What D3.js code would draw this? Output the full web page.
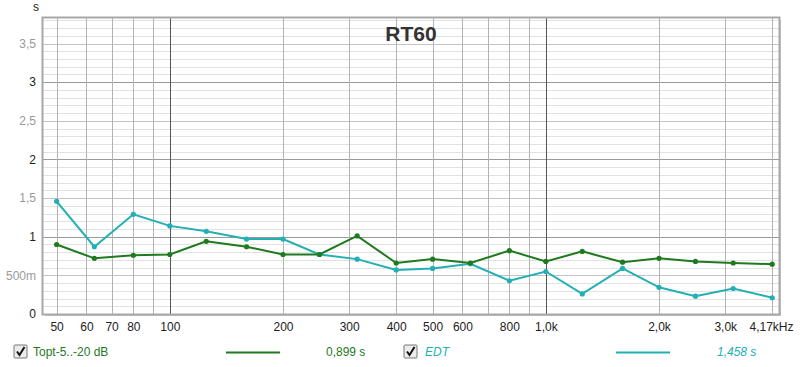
<!DOCTYPE html>
<html>
<head>
<meta charset="utf-8">
<script src="https://cdn.jsdelivr.net/npm/d3@7"></script>
<style>
  body { margin: 0; background: #fff; }
  svg { font-family: "Liberation Sans", Arial, sans-serif; }
</style>
</head>
<body>
<svg id="chart" width="800" height="367"></svg>
<script>
// third-octave bands and measured values (s)
const freqs = [50, 63, 80, 100, 125, 160, 200, 250, 315, 400, 500, 630, 800, 1000, 1250, 1600, 2000, 2500, 3150, 4000];
const topt = [0.899, 0.72, 0.76, 0.77, 0.94, 0.87, 0.77, 0.77, 1.01, 0.66, 0.71, 0.66, 0.82, 0.68, 0.81, 0.67, 0.72, 0.68, 0.66, 0.645];
const edt = [1.458, 0.87, 1.29, 1.14, 1.07, 0.97, 0.97, 0.77, 0.71, 0.57, 0.59, 0.65, 0.43, 0.55, 0.26, 0.59, 0.345, 0.23, 0.33, 0.21];

const xTicks = [50, 60, 70, 80, 100, 200, 300, 400, 500, 600, 800, 1000, 2000, 3000, 4170];
const xTickLabels = ["50", "60", "70", "80", "100", "200", "300", "400", "500", "600", "800", "1,0k", "2,0k", "3,0k", "4,17kHz"];
const yTicks = [0, 0.5, 1, 1.5, 2, 2.5, 3, 3.5];
const yTickLabels = ["0", "500m", "1", "1,5", "2", "2,5", "3", "3,5"];

const green = "#1f7a1f";
const cyan = "#22b0b4";

const svg = d3.select("#chart");
const margin = { top: 18, right: 21, bottom: 53, left: 43 };
const width = 800 - margin.left - margin.right;
const height = 367 - margin.top - margin.bottom;

const x = d3.scaleLog().domain([46, 4170]).range([0, width]);
const y = d3.scaleLinear().domain([0, 3.83]).range([height, 0]);

const g = svg.append("g").attr("transform", `translate(${margin.left},${margin.top})`);

// shadow of frame
g.append("rect").attr("x", 2).attr("y", 2).attr("width", width).attr("height", height)
  .attr("fill", "#c8c8c8");
g.append("rect").attr("width", width).attr("height", height).attr("fill", "#fff");

// horizontal grid
const minorY = d3.range(1, 39).map(i => i / 10);
g.selectAll(".hg").data(minorY).join("line")
  .attr("x1", 0).attr("x2", width)
  .attr("y1", d => Math.round(y(d)) + 0.5).attr("y2", d => Math.round(y(d)) + 0.5)
  .attr("stroke", d => {
    const k = Math.round(d * 10);
    if (k % 10 === 0) return "#9a9a9a";
    if (k % 5 === 0) return "#c4c4c4";
    return "#e2e2e2";
  });

// vertical grid
const gridX = [50, 60, 70, 80, 90, 100, 200, 300, 400, 500, 600, 700, 800, 900, 1000, 2000, 3000, 4000];
g.selectAll(".vg").data(gridX).join("line")
  .attr("x1", d => Math.round(x(d)) + 0.5).attr("x2", d => Math.round(x(d)) + 0.5)
  .attr("y1", 0).attr("y2", height)
  .attr("stroke", d => (d === 100 || d === 1000) ? "#555" : "#b4b4b4");

// frame
g.append("rect").attr("x", -0.5).attr("y", -0.5).attr("width", width + 1).attr("height", height + 1)
  .attr("fill", "none").attr("stroke", "#a8a8a8").attr("stroke-width", 2);

// title
g.append("text").attr("x", 368).attr("y", 23).attr("text-anchor", "middle")
  .attr("font-size", 21).attr("font-weight", "bold").attr("fill", "#333").text("RT60");

// axes
const xAxis = d3.axisBottom(x).tickValues(xTicks)
  .tickFormat((d, i) => xTickLabels[i]).tickSize(0).tickPadding(8);
g.append("g").attr("transform", `translate(0,${height})`).call(xAxis)
  .call(a => a.select(".domain").remove())
  .selectAll("text").attr("font-size", 12).attr("fill", "#222")
  .attr("font-family", "'Liberation Sans', Arial, sans-serif")
  .attr("dx", (d, i) => i === xTicks.length - 1 ? -8 : 0);

const yAxis = d3.axisLeft(y).tickValues(yTicks)
  .tickFormat((d, i) => yTickLabels[i]).tickSize(0).tickPadding(7);
g.append("g").call(yAxis)
  .call(a => a.select(".domain").remove())
  .selectAll("text").attr("font-size", 12)
  .attr("font-family", "'Liberation Sans', Arial, sans-serif")
  .attr("fill", d => Number.isInteger(d) ? "#222" : "#999");

g.append("text").attr("x", -10).attr("y", -7).attr("font-size", 12).attr("fill", "#222").text("s");

// series
const series = [
  { values: edt, color: cyan },
  { values: topt, color: green }
];
const line = d3.line().x(d => x(d[0])).y(d => y(d[1]));
series.forEach(s => {
  const pts = freqs.map((f, i) => [f, s.values[i]]);
  g.append("path").datum(pts).attr("d", line)
    .attr("fill", "none").attr("stroke", s.color).attr("stroke-width", 2);
  g.selectAll(null).data(pts).join("circle")
    .attr("cx", d => x(d[0])).attr("cy", d => y(d[1])).attr("r", 2.6)
    .attr("fill", s.color);
});

// legend
const legend = svg.append("g").attr("font-size", 12);
function checkbox(cx) {
  const b = legend.append("g").attr("transform", `translate(${cx},345)`);
  b.append("rect").attr("width", 13).attr("height", 13).attr("fill", "#ececec")
    .attr("stroke", "#777").attr("rx", 1);
  b.append("path").attr("d", "M3,6.5 L5.5,10 L10.5,2").attr("fill", "none")
    .attr("stroke", "#111").attr("stroke-width", 2);
}
checkbox(14);
legend.append("text").attr("x", 33).attr("y", 356).attr("fill", green).text("Topt-5..-20 dB");
legend.append("line").attr("x1", 226).attr("x2", 280).attr("y1", 352.5).attr("y2", 352.5)
  .attr("stroke", green).attr("stroke-width", 2);
legend.append("text").attr("x", 326).attr("y", 356).attr("fill", green).text("0,899 s");
checkbox(404);
legend.append("text").attr("x", 425).attr("y", 356).attr("fill", cyan).attr("font-style", "italic").text("EDT");
legend.append("line").attr("x1", 616).attr("x2", 670).attr("y1", 352.5).attr("y2", 352.5)
  .attr("stroke", cyan).attr("stroke-width", 2);
legend.append("text").attr("x", 717).attr("y", 356).attr("fill", cyan).attr("font-style", "italic").text("1,458 s");
</script>
</body>
</html>
